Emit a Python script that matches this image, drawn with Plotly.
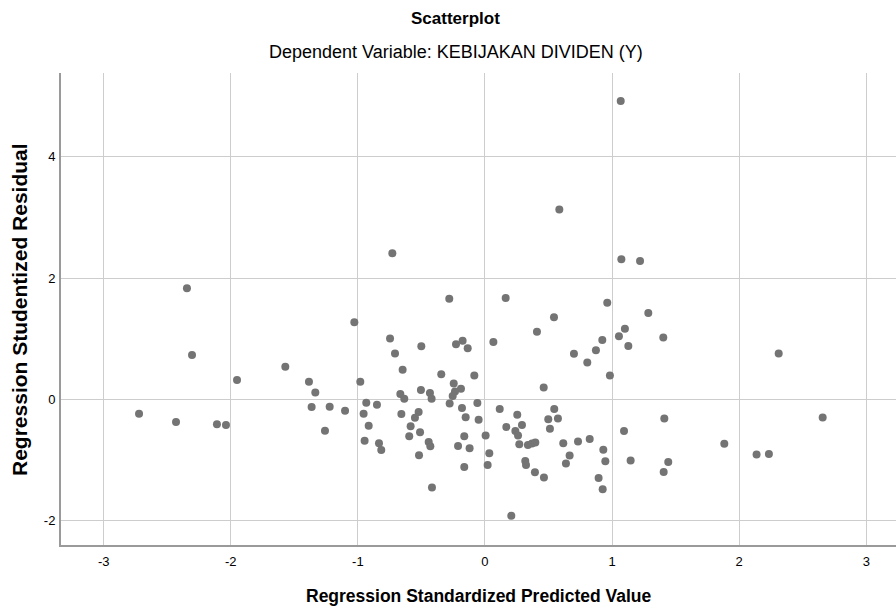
import plotly.graph_objects as go

# Regression Standardized Predicted Value
pred_x = [
    -2.722, -2.431, -2.345, -2.305, -2.109, -2.038, -1.951, -1.571, -1.385, -1.335,
    -1.364, -1.222, -1.259, -1.101, -1.028, -0.981, -0.934, -0.850, -0.955, -0.915,
    -0.947, -0.834, -0.816, -0.747, -0.729, -0.708, -0.648, -0.666, -0.635, -0.658,
    -0.501, -0.504, -0.433, -0.420, -0.522, -0.551, -0.585, -0.511, -0.596, -0.443,
    -0.430, -0.519, -0.417, -0.344, -0.281, -0.228, -0.176, -0.136, -0.084, -0.246,
    -0.189, -0.236, -0.254, -0.278, -0.060, -0.181, -0.152, -0.050, -0.163, -0.212,
    -0.121, -0.163, 0.005, 0.034, 0.021, 0.066, 0.163, 0.116, 0.168, 0.254,
    0.291, 0.239, 0.260, 0.270, 0.338, 0.370, 0.396, 0.317, 0.323, 0.393,
    0.464, 0.207, 0.409, 0.462, 0.543, 0.585, 0.545, 0.498, 0.574, 0.511,
    0.616, 0.666, 0.637, 0.700, 0.732, 0.805, 0.824, 0.873, 0.923, 0.894,
    0.926, 0.931, 0.947, 0.962, 0.983, 1.054, 1.068, 1.073, 1.101, 1.128,
    1.094, 1.146, 1.220, 1.285, 1.403, 1.411, 1.442, 1.406, 1.883, 2.137,
    2.234, 2.311, 2.657,
]

# Regression Studentized Residual
resid_y = [
    -0.235, -0.373, 1.830, 0.730, -0.410, -0.420, 0.320, 0.540, 0.290, 0.115,
    -0.127, -0.120, -0.515, -0.186, 1.270, 0.290, -0.055, -0.088, -0.236, -0.433,
    -0.680, -0.724, -0.833, 1.003, 2.410, 0.757, 0.488, 0.088, 0.011, -0.241,
    0.877, 0.153, 0.104, 0.011, -0.208, -0.302, -0.444, -0.543, -0.609, -0.702,
    -0.773, -0.921, -1.453, 0.416, 1.660, 0.910, 0.965, 0.844, 0.395, 0.263,
    0.176, 0.132, 0.055, -0.066, -0.060, -0.143, -0.296, -0.334, -0.609, -0.768,
    -0.806, -1.113, -0.597, -0.888, -1.080, 0.948, 1.670, -0.159, -0.455, -0.252,
    -0.422, -0.521, -0.597, -0.740, -0.751, -0.729, -0.712, -1.014, -1.080, -1.200,
    -1.288, -1.919, 1.113, 0.197, 1.354, 3.130, -0.159, -0.329, -0.313, -0.482,
    -0.724, -0.926, -1.058, 0.751, -0.696, 0.608, -0.653, 0.810, 0.980, -1.294,
    -1.480, -0.828, -1.020, 1.595, 0.395, 1.040, 4.920, 2.310, 1.163, 0.880,
    -0.520, -1.009, 2.280, 1.426, 1.020, -0.313, -1.030, -1.195, -0.730, -0.910,
    -0.900, 0.757, -0.300,
]

x_ticks = [-3, -2, -1, 0, 1, 2, 3]
y_ticks = [-2, 0, 2, 4]

title_text = "Scatterplot"
subtitle_text = "Dependent Variable: KEBIJAKAN DIVIDEN (Y)"
x_title = "Regression Standardized Predicted Value"
y_title = "Regression Studentized Residual"

FONT = "Liberation Sans, Arial, sans-serif"
GRID = "#cdcdcd"
AXIS = "#9a9a9a"

fig = go.Figure()
fig.add_trace(go.Scatter(
    x=pred_x, y=resid_y, mode="markers",
    marker=dict(size=8, color="#747474", line=dict(width=0)),
    hoverinfo="x+y", showlegend=False,
))

fig.update_layout(
    width=896, height=610,
    margin=dict(l=61, r=0, t=73, b=65, autoexpand=False),
    paper_bgcolor="white", plot_bgcolor="white",
    font=dict(family=FONT, color="#000000"),
    xaxis=dict(
        range=[-3.336, 3.234], tickvals=x_ticks, ticktext=[str(v) for v in x_ticks],
        showgrid=True, gridcolor=GRID, gridwidth=1,
        zeroline=False, showline=True, linecolor=AXIS, linewidth=2,
        ticks="", tickfont=dict(size=13, family=FONT, color="#000"),
        ticklabelstandoff=3, automargin=False,
    ),
    yaxis=dict(
        range=[-2.40, 5.38], tickvals=y_ticks, ticktext=[str(v) for v in y_ticks],
        showgrid=True, gridcolor=GRID, gridwidth=1,
        zeroline=False, showline=True, linecolor=AXIS, linewidth=2,
        ticks="", tickfont=dict(size=13, family=FONT, color="#000"),
        ticklabelstandoff=1, automargin=False,
    ),
    annotations=[
        dict(text="<b>" + title_text + "</b>", xref="paper", yref="paper",
             x=0.473, y=1.116, xanchor="center", yanchor="middle",
             showarrow=False, font=dict(size=17, family=FONT)),
        dict(text=subtitle_text, xref="paper", yref="paper",
             x=0.473, y=1.045, xanchor="center", yanchor="middle",
             showarrow=False, font=dict(size=18, family=FONT)),
        dict(text="<b>" + x_title + "</b>", xref="paper", yref="paper",
             x=0.5, y=-0.108, xanchor="center", yanchor="middle",
             showarrow=False, font=dict(size=17.5, family=FONT)),
        dict(text="<b>" + y_title + "</b>", xref="paper", yref="paper",
             x=-0.0503, y=0.5, xanchor="center", yanchor="middle", textangle=-90,
             showarrow=False, font=dict(size=21, family=FONT)),
    ],
)

# remove the default 8px page margin so the figure fills the window exactly
fig.write_html(
    "out.html",
    config={"displayModeBar": False},
    post_script="document.body.style.margin='0';document.body.style.overflow='hidden';",
)
